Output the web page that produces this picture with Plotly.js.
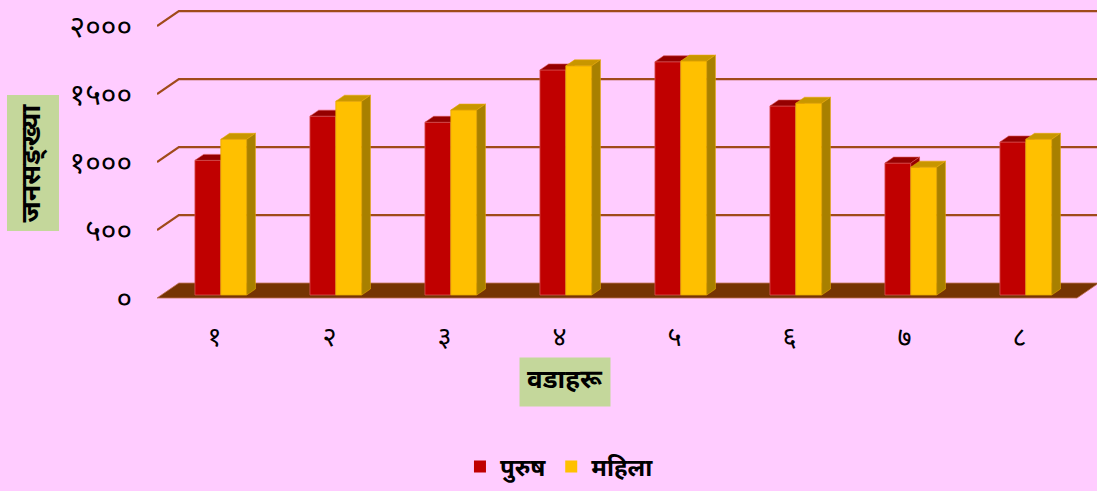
<!DOCTYPE html>
<html>
<head>
<meta charset="utf-8">
<script src="https://cdn.plot.ly/plotly-3.0.1.min.js"></script>
<style>html,body{margin:0;padding:0;background:#FFCCFF;}#chart{width:1097px;height:491px;}</style>
</head>
<body>
<div id="chart"></div>
<script>
// ---- data ----
const categories = ['१','२','३','४','५','६','७','८'];
const male = [990, 1315, 1270, 1655, 1715, 1390, 970, 1125];     // पुरुष
const female = [1145, 1425, 1360, 1685, 1720, 1410, 940, 1145];  // महिला
const seriesNames = ['पुरुष', 'महिला'];
const yTickVals = [0, 500, 1000, 1500, 2000];
const yTickText = ['०', '५००', '१०००', '१५००', '२०००'];

// ---- 3D look (style) ----
const DX = 0.19, DY = 110;          // full floor depth in axis units
const barLeft = 0.33, barW = 0.225; // front-face placement inside a category
const d0 = 0.2, d1 = 0.6;           // bar depth span (fraction of floor depth)
const FONT = '"Noto Sans Devanagari", "Noto Sans", "DejaVu Sans", sans-serif';
const faceCols = [
  {front: '#C00000', top: '#950000', side: '#950000', line: '#D85050'},
  {front: '#FFC000', top: '#C89600', side: '#A88000', line: '#E8A800'}
];
const nCat = categories.length;

const traces = [];

// gridlines: slant on left wall, then along back wall
const gx = [], gy = [];
yTickVals.forEach(v => {
  if (v === 0) return;
  gx.push(0, DX, nCat + DX, null);
  gy.push(v, v + DY, v + DY, null);
});
traces.push({type: 'scatter', mode: 'lines', x: gx, y: gy, hoverinfo: 'skip', showlegend: false,
  line: {color: '#A04A1A', width: 2.2}});

// floor
traces.push({type: 'scatter', mode: 'lines', fill: 'toself', hoverinfo: 'skip', showlegend: false,
  x: [0, nCat, nCat + DX, DX, 0], y: [0, 0, DY, DY, 0],
  fillcolor: '#763403', line: {color: '#C07050', width: 0.8}});

[male, female].forEach((vals, s) => {
  const fx = [], fy = [], tx = [], ty = [], sx = [], sy = [];
  vals.forEach((v, i) => {
    const x0 = i + barLeft + s * barW, x1 = x0 + barW;
    const y0 = d0 * DY, y1 = y0 + v;
    const ox = (d1 - d0) * DX, oy = (d1 - d0) * DY;
    fx.push(x0, x1, x1, x0, x0, null); fy.push(y0, y0, y1, y1, y0, null);
    tx.push(x0, x1, x1 + ox, x0 + ox, x0, null); ty.push(y1, y1, y1 + oy, y1 + oy, y1, null);
    sx.push(x1, x1 + ox, x1 + ox, x1, x1, null); sy.push(y0, y0 + oy, y1 + oy, y1, y0, null);
  });
  const c = faceCols[s];
  traces.push({type: 'scatter', mode: 'lines', fill: 'toself', x: fx, y: fy, fillcolor: c.front,
    line: {color: c.line, width: 0.8}, showlegend: false, name: seriesNames[s]});
  traces.push({type: 'scatter', mode: 'lines', fill: 'toself', x: tx, y: ty, fillcolor: c.top,
    line: {color: c.line, width: 0.6}, showlegend: false, hoverinfo: 'skip'});
  traces.push({type: 'scatter', mode: 'lines', fill: 'toself', x: sx, y: sy, fillcolor: c.side,
    line: {color: c.line, width: 0.6}, showlegend: false, hoverinfo: 'skip'});
});

// legend-only entries
seriesNames.forEach((n, s) => {
  traces.push({type: 'bar', x: [null], y: [null], name: '<b>' + n + '</b>', marker: {color: faceCols[s].front}});
});

const layout = {
  width: 1097, height: 491,
  paper_bgcolor: '#FFCCFF', plot_bgcolor: 'rgba(0,0,0,0)',
  margin: {l: 157, r: 0, t: 0, b: 181},
  showlegend: true,
  xaxis: {range: [0, 940 / 115], showgrid: false, zeroline: false, showline: false, ticks: '',
    tickvals: categories.map((c, i) => i + 0.5), ticktext: categories,
    tickfont: {family: FONT, size: 27, color: '#000'}, ticklabelstandoff: 8, fixedrange: true},
  yaxis: {range: [-12 / 0.136, 298 / 0.136], showgrid: false, zeroline: false, showline: false, ticks: '',
    tickvals: yTickVals, ticktext: yTickText,
    tickfont: {family: FONT, size: 30, color: '#000'}, ticklabelstandoff: 24, fixedrange: true},
  legend: {orientation: 'h', xref: 'container', yref: 'container', x: 0.51, xanchor: 'center',
    y: 0.049, yanchor: 'middle', font: {family: FONT, size: 24, color: '#000'},
    itemwidth: 30, bgcolor: 'rgba(0,0,0,0)'},
  annotations: [
    {text: '<b>जनसङ्ख्या</b>', textangle: -90, xref: 'paper', yref: 'paper',
      x: (33 - 157) / 940, y: 1 - 163.5 / 310, showarrow: false, bgcolor: '#C4D79B', borderpad: 8,
      font: {family: FONT, size: 27, color: '#000'}, xanchor: 'center', yanchor: 'middle'},
    {text: '<b>वडाहरू</b>', xref: 'paper', yref: 'paper',
      x: (565 - 157) / 940, y: 1 - 382 / 310, showarrow: false, bgcolor: '#C4D79B', borderpad: 7,
      font: {family: FONT, size: 26, color: '#000'}, xanchor: 'center', yanchor: 'middle'}
  ]
};

Plotly.newPlot('chart', traces, layout, {displayModeBar: false, staticPlot: true});
</script>
</body>
</html>
